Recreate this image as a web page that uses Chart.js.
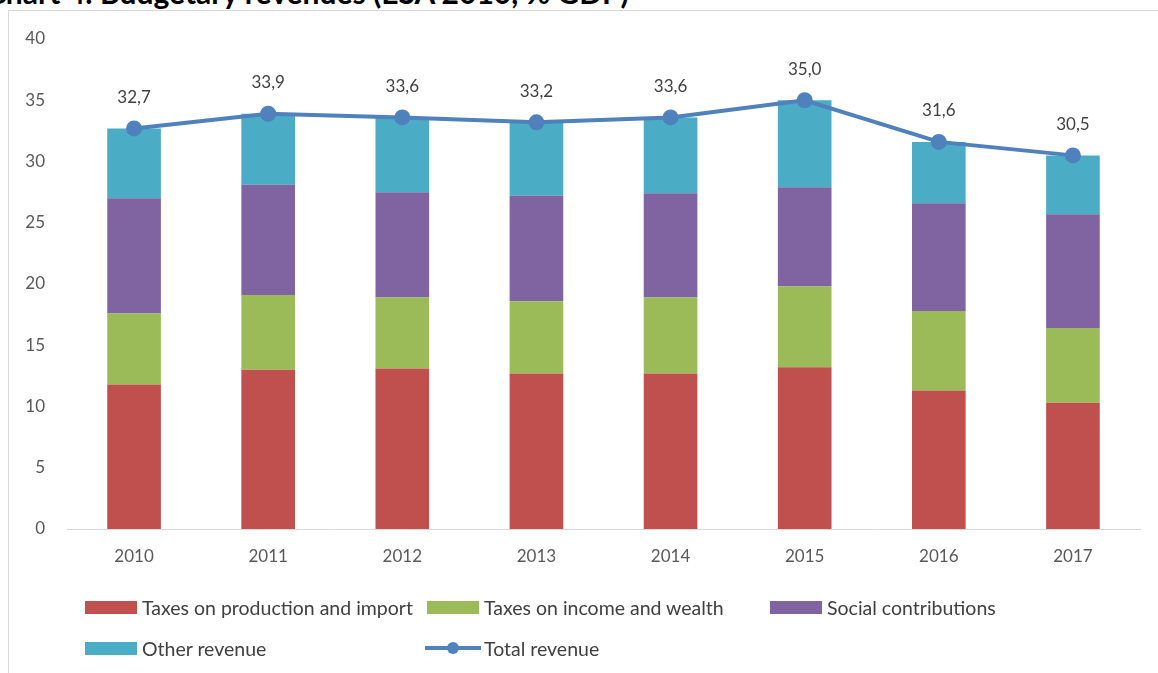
<!DOCTYPE html>
<html>
<head>
<meta charset="utf-8">
<script src="https://cdn.jsdelivr.net/npm/chart.js@4/dist/chart.umd.min.js"></script>
<style>
  html, body { margin:0; padding:0; background:#fff; }
  body { width:1158px; height:673px; position:relative; overflow:hidden; font-family: Lato, "Open Sans", sans-serif; }
  #title { position:absolute; left:-14px; top:-23px; font: bold 30px Lato, sans-serif; color:#000; white-space:nowrap; line-height:30px; }
  #frame { position:absolute; left:8px; top:10px; width:1160px; height:680px; border-top:1px solid #d9d9d9; border-left:1px solid #d9d9d9; box-sizing:border-box; }
  #wrap { position:absolute; left:0; top:0; width:1158px; height:673px; }
  #legend { position:absolute; left:0; top:0; width:1158px; height:673px; pointer-events:none; }
  .li { position:absolute; display:flex; align-items:center; font-size:19.5px; color:#404040; white-space:nowrap; }
  .sw { width:52px; height:13px; margin-right:5px; }
  .ln { width:56px; height:20px; margin-right:3px; }
</style>
</head>
<body>
<div id="title">Chart 4: Budgetary revenues (ESA 2010, % GDP)</div>
<div id="frame"></div>
<div id="wrap"><canvas id="c" width="1158" height="673"></canvas></div>
<div id="legend"></div>
<script>
const categories = ['2010','2011','2012','2013','2014','2015','2016','2017'];
const productionImport = [11.8, 13.0, 13.1, 12.7, 12.7, 13.2, 11.3, 10.3];
const incomeWealth     = [5.8, 6.1, 5.8, 5.9, 6.2, 6.6, 6.5, 6.1];
const socialContrib    = [9.4, 9.0, 8.6, 8.6, 8.5, 8.1, 8.8, 9.3];
const otherRevenue     = [5.7, 5.8, 6.1, 6.0, 6.2, 7.1, 5.0, 4.8];
const totalRevenue     = [32.7, 33.9, 33.6, 33.2, 33.6, 35.0, 31.6, 30.5];
const seriesNames = ['Taxes on production and import','Taxes on income and wealth','Social contributions','Other revenue','Total revenue'];
const colors = ['#C0504D','#9BBB59','#8064A2','#4BACC6','#4F81BD'];

const fontFamily = 'Lato, "Open Sans", sans-serif';

const dataLabelPlugin = {
  id: 'totalLabels',
  afterDatasetsDraw(chart) {
    const ctx = chart.ctx;
    const idx = chart.data.datasets.findIndex(d => d.type === 'line');
    const meta = chart.getDatasetMeta(idx);
    ctx.save();
    ctx.font = '17px ' + fontFamily;
    ctx.fillStyle = '#404040';
    ctx.textAlign = 'center';
    ctx.textBaseline = 'middle';
    meta.data.forEach((pt, i) => {
      const v = chart.data.datasets[idx].data[i];
      ctx.fillText(v.toFixed(1).replace('.', ','), pt.x, pt.y - 31);
    });
    ctx.restore();
  }
};

const barDs = (label, data, color) => ({
  type: 'bar', label, data, backgroundColor: color, borderWidth: 0,
  stack: 'bars', order: 1, barPercentage: 0.4, categoryPercentage: 1.0
});

const chart = new Chart(document.getElementById('c'), {
  data: {
    labels: categories,
    datasets: [
      barDs(seriesNames[0], productionImport, colors[0]),
      barDs(seriesNames[1], incomeWealth, colors[1]),
      barDs(seriesNames[2], socialContrib, colors[2]),
      barDs(seriesNames[3], otherRevenue, colors[3]),
      {
        type: 'line', label: seriesNames[4], data: totalRevenue, stack: 'total', order: 0,
        borderColor: colors[4], backgroundColor: colors[4], borderWidth: 4,
        pointRadius: 6, pointHoverRadius: 6, pointBackgroundColor: colors[4], pointBorderColor: colors[4],
        tension: 0, fill: false
      }
    ]
  },
  options: {
    responsive: false,
    animation: false,
    events: [],
    layout: { padding: { left: 0, right: 18, top: 39, bottom: 0 } },
    plugins: { legend: { display: false }, tooltip: { enabled: false } },
    scales: {
      x: {
        stacked: true,
        grid: { display: false, drawTicks: false },
        border: { display: true, color: '#d9d9d9', width: 1 },
        ticks: { color: '#595959', font: { family: fontFamily, size: 17 }, padding: 17, maxRotation: 0 },
        afterFit(s) { s.height = 144; }
      },
      y: {
        stacked: true,
        min: 0, max: 40,
        grid: { display: false, drawTicks: false },
        border: { display: false },
        ticks: { stepSize: 5, color: '#595959', font: { family: fontFamily, size: 17 }, padding: 22 },
        afterFit(s) { s.width = 67; }
      }
    }
  },
  plugins: [dataLabelPlugin]
});

// HTML legend built from the chart's datasets
const legendPos = [
  { left: 85, top: 607 }, { left: 427, top: 607 }, { left: 770, top: 607 },
  { left: 85, top: 648 }, { left: 425, top: 648 }
];
const leg = document.getElementById('legend');
chart.data.datasets.forEach((ds, i) => {
  const item = document.createElement('div');
  item.className = 'li';
  item.style.left = legendPos[i].left + 'px';
  item.style.top = (legendPos[i].top - 11) + 'px';
  item.style.height = '22px';
  if (ds.type === 'line') {
    const c = document.createElement('canvas');
    c.width = 56; c.height = 20; c.className = 'ln';
    const g = c.getContext('2d');
    g.strokeStyle = ds.borderColor; g.lineWidth = 4;
    g.beginPath(); g.moveTo(0, 10); g.lineTo(56, 10); g.stroke();
    g.fillStyle = ds.borderColor; g.beginPath(); g.arc(28, 10, 6, 0, Math.PI * 2); g.fill();
    item.appendChild(c);
  } else {
    const s = document.createElement('div');
    s.className = 'sw'; s.style.background = ds.backgroundColor;
    item.appendChild(s);
  }
  const t = document.createElement('span');
  t.textContent = ds.label;
  item.appendChild(t);
  leg.appendChild(item);
});
</script>
</body>
</html>
